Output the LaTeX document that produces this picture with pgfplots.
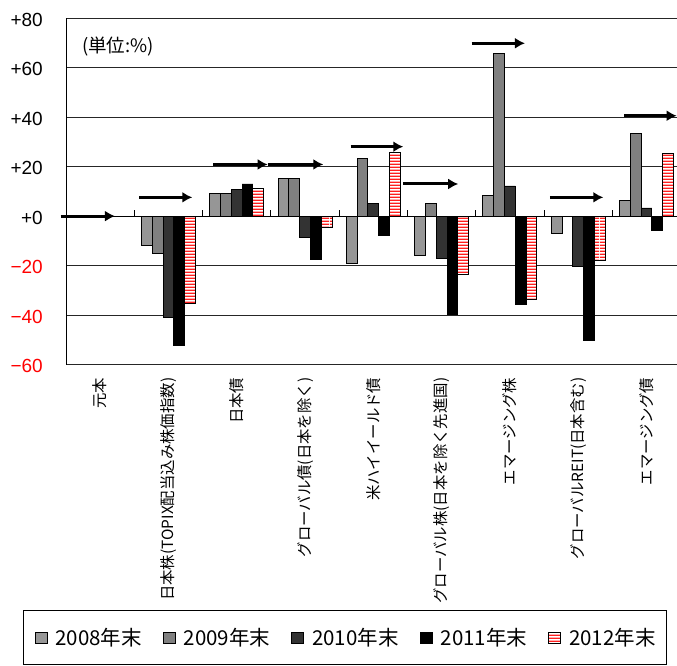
\documentclass[border=0pt]{standalone}
\usepackage{fontspec}
\setmainfont{Liberation Sans}
\newfontfamily\cjk{Noto Sans CJK JP}
\usepackage{pgfplots}
\pgfplotsset{compat=1.18}
\usetikzlibrary{arrows.meta,patterns}

\definecolor{g08}{RGB}{150,150,150}
\definecolor{g09}{RGB}{128,128,128}
\definecolor{g10}{RGB}{51,51,51}
\definecolor{stripe}{RGB}{255,30,30}

% horizontal stripes, 1.7bp thick every 3bp
\pgfdeclarepatternformonly{hstripes}{\pgfpointorigin}{\pgfqpoint{30bp}{3bp}}{\pgfqpoint{30bp}{3bp}}{%
  \pgfpathrectangle{\pgfpointorigin}{\pgfqpoint{30bp}{1.7bp}}%
  \pgfusepath{fill}%
}

\begin{document}
\begin{tikzpicture}[arr/.style={-{Latex[length=10bp,width=11bp]}, line width=3bp}]
\begin{axis}[
  at={(66bp,-18.3bp)}, anchor=north west,
  scale only axis, width=614.7bp, height=346.2bp,
  xmin=-0.5, xmax=8.5, ymin=-60, ymax=80,
  clip=false,
  axis x line*=bottom, axis y line*=left,
  x axis line style={draw=none},
  y axis line style={draw=black, line width=0.9bp, -},
  major tick length=0pt,
  ytick={-60,-40,...,80},
  yticklabels={{\color{red}−60},{\color{red}−40},{\color{red}−20},{+0},{+20},{+40},{+60},{+80}},
  yticklabel style={font=\fontsize{19bp}{22bp}\selectfont, anchor=east, inner sep=0pt, xshift=-23bp, yshift=-1.5bp},
  ymajorgrids, grid style={black!85, line width=0.8bp},
  extra y ticks={0}, extra y tick labels={},
  extra y tick style={grid style={black, line width=0.9bp}},
  xtick={0,...,8},
  xticklabels={元本, 日本株(TOPIX配当込み株価指数), 日本債, グローバル債(日本を除く), 米ハイイールド債, グローバル株(日本を除く先進国), エマージング株, グローバルREIT(日本含む), エマージング債},
  xticklabel style={font=\cjk\fontsize{15.4bp}{18bp}\selectfont, yshift=-13bp, rotate=90, anchor=east, inner sep=0pt},
  ybar=0pt, bar width=10.8bp,
  legend columns=5,
  legend image code/.code={\draw[#1, draw=black, line width=0.9bp] (0bp,-5.5bp) rectangle (12bp,5.5bp);},
  legend style={
    at={(-0.06995,-0.70809)}, anchor=north west,
    draw=black, line width=1bp,
    inner xsep=11bp, inner ysep=18bp,
    font=\cjk\fontsize{20.5bp}{24bp}\selectfont,
    nodes={inner sep=0pt},
    /tikz/every odd column/.append style={column sep=8bp},
    /tikz/every even column/.append style={column sep=21bp},
  },
]
% 2008
\addplot[fill=g08, draw=black, line width=0.9bp] coordinates
  {(1,-11.8) (2,9.0) (3,15.3) (4,-19.0) (5,-15.9) (6,8.2) (7,-7.1) (8,6.5)};
% 2009 (no REIT value)
\addplot[fill=g09, draw=black, line width=0.9bp] coordinates
  {(1,-14.9) (2,9.0) (3,15.3) (4,23.3) (5,5.1) (6,65.9) (8,33.5)};
% 2010
\addplot[fill=g10, draw=black, line width=0.9bp] coordinates
  {(1,-40.9) (2,10.6) (3,-8.6) (4,5.2) (5,-17.3) (6,12.2) (7,-20.3) (8,3.3)};
% 2011
\addplot[fill=black, draw=black, line width=0.9bp] coordinates
  {(1,-52.1) (2,13.0) (3,-17.6) (4,-7.9) (5,-39.6) (6,-35.8) (7,-50.4) (8,-5.6)};
% 2012
\addplot[draw=black, line width=0.9bp, preaction={fill=white},
         pattern=hstripes, pattern color=stripe] coordinates
  {(1,-35.4) (2,11.3) (3,-4.5) (4,25.6) (5,-23.7) (6,-33.8) (7,-18.0) (8,25.4)};
\legend{2008年末,2009年末,2010年末,2011年末,2012年末}

% category separators on the zero line
\draw[black, line width=0.8bp]
  (axis cs:0.5,0) -- ++(0pt,6bp) (axis cs:1.5,0) -- ++(0pt,6bp)
  (axis cs:2.5,0) -- ++(0pt,6bp) (axis cs:3.5,0) -- ++(0pt,6bp)
  (axis cs:4.5,0) -- ++(0pt,6bp) (axis cs:5.5,0) -- ++(0pt,6bp)
  (axis cs:6.5,0) -- ++(0pt,6bp) (axis cs:7.5,0) -- ++(0pt,6bp);

% direction arrows
\draw[arr] (axis cs:-0.578,0) -- (axis cs:0.217,0);
\draw[arr] (axis cs:0.573,7.6) -- (axis cs:1.349,7.6);
\draw[arr] (axis cs:1.657,20.9) -- (axis cs:2.453,20.9);
\draw[arr] (axis cs:2.453,20.9) -- (axis cs:3.267,20.9);
\draw[arr] (axis cs:3.668,28.1) -- (axis cs:4.438,28.1);
\draw[arr] (axis cs:4.438,13.0) -- (axis cs:5.243,13.0);
\draw[arr] (axis cs:5.440,69.9) -- (axis cs:6.220,69.9);
\draw[arr] (axis cs:6.586,7.6) -- (axis cs:7.367,7.6);
\draw[arr] (axis cs:7.674,40.6) -- (axis cs:8.441,40.6);
\end{axis}

\node[anchor=west, inner sep=0pt, font=\cjk\fontsize{18.5bp}{21bp}\selectfont] at (82bp,-47bp) {(単位:\%)};

\pgfresetboundingbox
\path[use as bounding box] (0,0) rectangle (677bp,-666bp);
\end{tikzpicture}
\end{document}
